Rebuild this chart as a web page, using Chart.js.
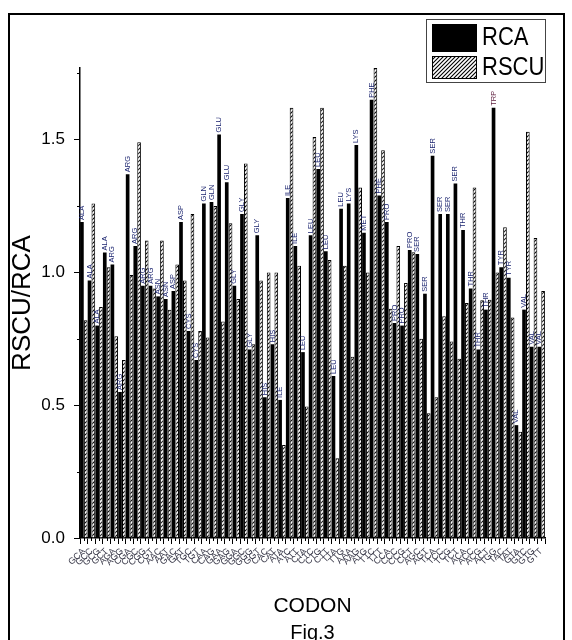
<!DOCTYPE html>
<html><head><meta charset="utf-8">
<script src="https://cdn.jsdelivr.net/npm/chart.js@4/dist/chart.umd.min.js"></script>
<style>
html,body{margin:0;padding:0;background:#fff;}
canvas{display:block;}
</style></head><body>
<canvas id="c" width="572" height="640"></canvas>
<script>
const codons = ['GCA','GCC','GCG','GCT','AGA','AGG','CGA','CGC','CGG','CGT','AAC','AAT','GAC','GAT','TGC','TGT','CAA','CAG','GAA','GAG','GGA','GGC','GGG','GGT','CAC','CAT','ATA','ATC','ATT','CTA','CTC','CTG','CTT','TTA','TTG','AAA','AAG','ATG','TTC','TTT','CCA','CCC','CCG','CCT','AGC','AGT','TCA','TCC','TCG','TCT','ACA','ACC','ACG','ACT','TGG','TAC','TAT','GTA','GTC','GTG','GTT'];
const aminoAcids = ['ALA','ALA','ALA','ALA','ARG','ARG','ARG','ARG','ARG','ARG','ASN','ASN','ASP','ASP','CYS','CYS','GLN','GLN','GLU','GLU','GLY','GLY','GLY','GLY','HIS','HIS','ILE','ILE','ILE','LEU','LEU','LEU','LEU','LEU','LEU','LYS','LYS','MET','PHE','PHE','PRO','PRO','PRO','PRO','SER','SER','SER','SER','SER','SER','THR','THR','THR','THR','TRP','TYR','TYR','VAL','VAL','VAL','VAL'];
const rcaValues = [1.19,0.97,0.80,1.075,1.03,0.55,1.37,1.10,0.95,0.95,0.91,0.90,0.93,1.19,0.78,0.67,1.26,1.265,1.52,1.34,0.95,1.22,0.71,1.14,0.53,0.73,0.52,1.28,1.10,0.70,1.14,1.39,1.08,0.61,1.24,1.26,1.48,1.15,1.65,1.29,1.19,0.81,0.80,1.085,1.07,0.92,1.44,1.22,1.22,1.335,1.16,0.94,0.71,0.86,1.62,1.02,0.98,0.425,0.86,0.72,0.72];
const rscuValues = [0.82,1.26,0.87,1.02,0.76,0.67,0.99,1.49,1.12,0.94,1.12,0.86,1.03,0.97,1.22,0.78,0.755,1.25,0.815,1.185,0.90,1.41,0.73,0.97,1.0,1.0,0.35,1.62,1.025,0.495,1.51,1.62,1.047,0.30,1.025,0.683,1.32,1.0,1.77,1.46,0.863,1.10,0.96,1.076,0.75,0.47,0.53,0.835,0.74,0.675,0.885,1.32,0.895,0.897,1.0,1.17,0.83,0.40,1.53,1.13,0.93];
const yTickValues = [0, 0.5, 1.0, 1.5];
const yMinorTicks = [0.25, 0.75, 1.25, 1.75];
const seriesNames = ['RCA','RSCU'];
const xTitle = 'CODON';
const yTitle = 'RSCU/RCA';
const figCaption = 'Fig.3';

const FONT = "'Liberation Sans', Arial, sans-serif";
const canvas = document.getElementById('c');
const mainCtx = canvas.getContext('2d');

function makeHatch(){
  const t = document.createElement('canvas');
  t.width = 4; t.height = 4;
  const g = t.getContext('2d');
  g.fillStyle = '#fff'; g.fillRect(0,0,4,4);
  g.strokeStyle = '#000'; g.lineWidth = 1.1;
  g.beginPath();
  g.moveTo(0,4); g.lineTo(4,0);
  g.moveTo(-1,1); g.lineTo(1,-1);
  g.moveTo(3,5); g.lineTo(5,3);
  g.stroke();
  return mainCtx.createPattern(t,'repeat');
}
const hatch = makeHatch();

const decorPlugin = {
  id:'decor',
  afterDatasetsDraw(chart){
    const ctx = chart.ctx;
    const meta = chart.getDatasetMeta(0);
    ctx.save();
    ctx.font = '7.5px ' + FONT;
    ctx.textAlign = 'left';
    ctx.textBaseline = 'middle';
    meta.data.forEach((el,i)=>{
      ctx.save();
      ctx.translate(el.x, el.y - 2);
      ctx.rotate(-Math.PI/2);
      ctx.fillStyle = aminoAcids[i]==='TRP' ? '#5a1a3a' : '#1c2570';
      ctx.fillText(aminoAcids[i], 0, 0);
      ctx.restore();
    });
    ctx.restore();
  },
  afterDraw(chart){
    const ctx = chart.ctx;
    const xs = chart.scales.x, ys = chart.scales.y;
    const area = chart.chartArea;
    ctx.save();
    ctx.strokeStyle = '#000';
    ctx.lineWidth = 1;
    yMinorTicks.forEach(v=>{
      if (v > ys.max) return;
      const y = Math.round(ys.getPixelForValue(v)) + 0.5;
      ctx.beginPath(); ctx.moveTo(area.left-3, y); ctx.lineTo(area.left, y); ctx.stroke();
    });
    codons.forEach((c,i)=>{
      const x = Math.round(xs.getPixelForValue(i)) + 0.5;
      ctx.beginPath(); ctx.moveTo(x, area.bottom); ctx.lineTo(x, area.bottom+3); ctx.stroke();
    });
    ctx.fillStyle = '#000';
    ctx.textAlign = 'center';
    ctx.textBaseline = 'middle';
    ctx.font = '21px ' + FONT;
    ctx.fillText(xTitle, (area.left+area.right)/2, 606);
    ctx.font = '20px ' + FONT;
    ctx.fillText(figCaption, (area.left+area.right)/2, 633);
    ctx.save();
    ctx.translate(23, (area.top+area.bottom)/2);
    ctx.rotate(-Math.PI/2);
    ctx.font = '26px ' + FONT;
    ctx.fillText(yTitle, 0, 0);
    ctx.restore();
    ctx.lineWidth = 2;
    ctx.strokeStyle = '#000';
    ctx.strokeRect(9, 14, 555, 640);
    ctx.lineWidth = 1;
    ctx.strokeStyle = '#444';
    ctx.strokeRect(426.5, 19.5, 119, 63);
    ctx.fillStyle = '#000';
    ctx.fillRect(432, 24, 45, 28);
    ctx.fillStyle = hatch;
    ctx.fillRect(432, 56, 45, 23);
    ctx.strokeStyle = '#000';
    ctx.strokeRect(432.5, 56.5, 44, 22);
    ctx.fillStyle = '#000';
    ctx.textAlign = 'left';
    ctx.save();
    ctx.font = '25px ' + FONT;
    ctx.translate(482, 0);
    ctx.scale(0.88, 1);
    ctx.fillText(seriesNames[0], 0, 38);
    ctx.fillText(seriesNames[1], 0, 68);
    ctx.restore();
    ctx.restore();
  }
};

new Chart(canvas, {
  type:'bar',
  data:{
    labels: codons,
    datasets:[
      {label:seriesNames[0], data:rcaValues, backgroundColor:'#000', borderWidth:0},
      {label:seriesNames[1], data:rscuValues, backgroundColor:hatch, borderColor:'#000', borderWidth:1}
    ]
  },
  options:{
    responsive:false,
    animation:false,
    devicePixelRatio:1,
    layout:{padding:{top:68,right:27,left:0,bottom:0}},
    datasets:{bar:{categoryPercentage:1.0, barPercentage:0.96}},
    plugins:{legend:{display:false}, tooltip:{enabled:false}},
    scales:{
      x:{
        type:'category',
        grid:{display:true, drawOnChartArea:false, drawTicks:true, tickLength:6, color:'#000', lineWidth:1, offset:true},
        border:{display:true, color:'#000', width:1.5},
        ticks:{autoSkip:false, minRotation:45, maxRotation:45, font:{size:9, family:FONT}, color:'#3a3a4a', padding:2},
        afterFit(s){ s.height = 102; }
      },
      y:{
        min:0, max:1.77,
        afterBuildTicks(s){ s.ticks = yTickValues.map(v=>({value:v})); },
        grid:{display:true, drawOnChartArea:false, drawTicks:true, tickLength:6, color:'#000', lineWidth:1},
        border:{display:true, color:'#000', width:1.5},
        ticks:{callback:(v)=>Number(v).toFixed(1), font:{size:17, family:FONT}, color:'#000', padding:9},
        afterFit(s){ s.width = 80; }
      }
    }
  },
  plugins:[decorPlugin]
});
</script>
</body></html>
